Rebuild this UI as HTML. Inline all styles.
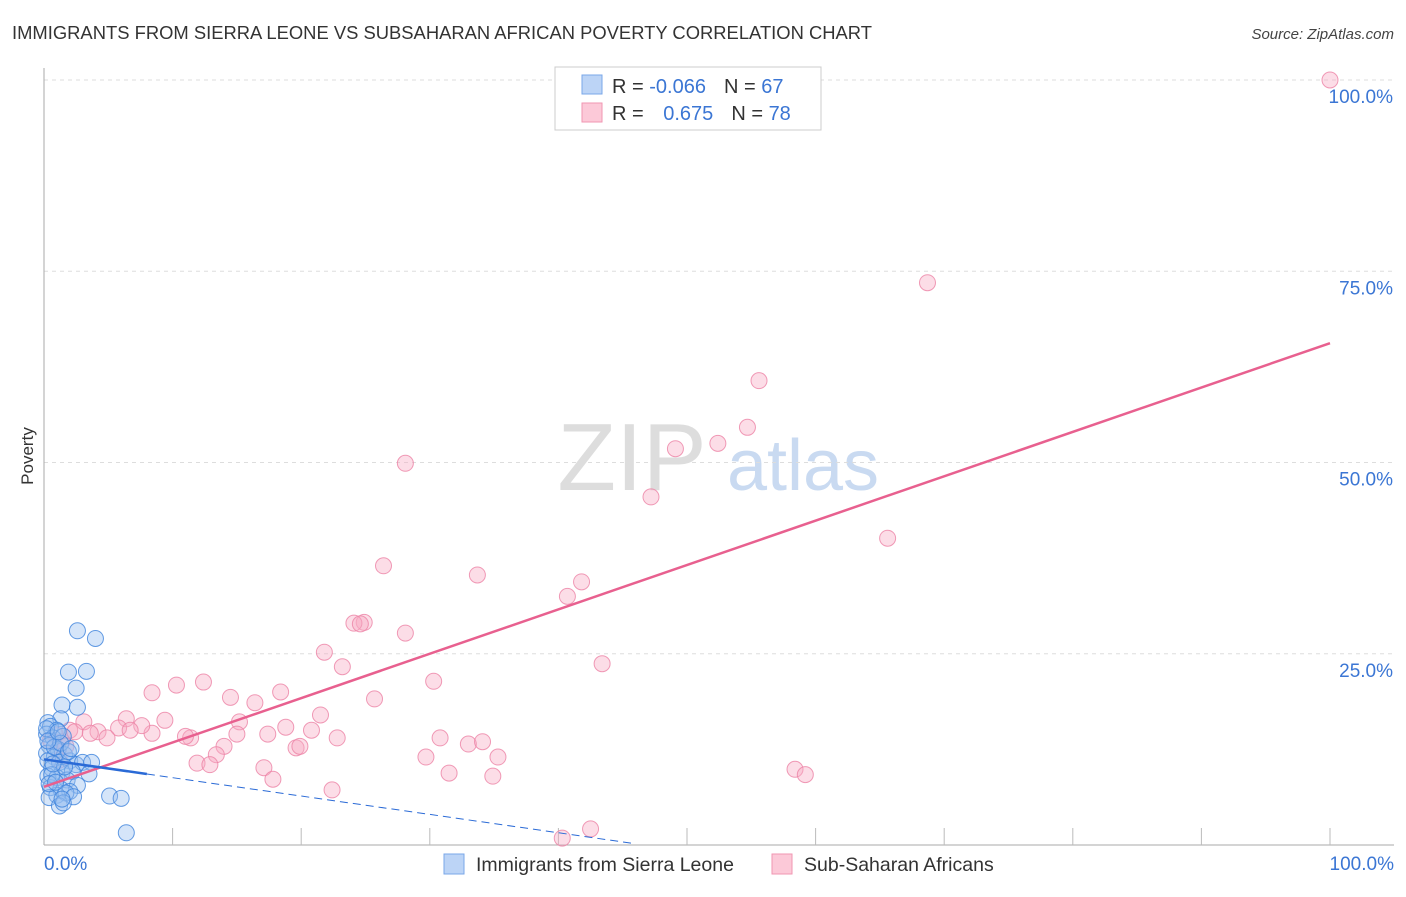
<!DOCTYPE html>
<html><head><meta charset="utf-8"><style>
body{margin:0;background:#fff;font-family:"Liberation Sans",sans-serif;}
svg text{font-family:"Liberation Sans",sans-serif;}
</style></head><body>
<svg id="chart" width="1406" height="892" viewBox="0 0 1406 892" xmlns="http://www.w3.org/2000/svg">
<text x="12" y="39" font-size="18" fill="#333" textLength="860" lengthAdjust="spacingAndGlyphs">IMMIGRANTS FROM SIERRA LEONE VS SUBSAHARAN AFRICAN POVERTY CORRELATION CHART</text>
<text x="1394" y="39" font-size="15" fill="#444" text-anchor="end" font-style="italic">Source: ZipAtlas.com</text>
<text transform="translate(33,456) rotate(-90)" font-size="17" fill="#333" text-anchor="middle">Poverty</text>
<g>
<text x="632" y="490" font-size="96" fill="#ddd" font-family="Liberation Serif,serif" text-anchor="middle">ZIP</text>
<text x="803" y="490" font-size="72" fill="#c9daf1" text-anchor="middle">atlas</text>
</g>
<g id="grid"></g>
<g id="axes"></g>
<g id="pts"></g>
<g id="lines"></g>
<g>
<rect x="555" y="67" width="266" height="63" fill="#fff" stroke="#ccc"/>
<rect x="582" y="75" width="20" height="19" fill="#bcd4f6" stroke="#7aa7e8"/>
<rect x="582" y="103" width="20" height="19" fill="#fcc9d8" stroke="#f096b2"/>
<text x="612" y="93" font-size="20" fill="#333">R = <tspan fill="#3b76d4">-0.066</tspan><tspan dx="18">N = </tspan><tspan fill="#3b76d4">67</tspan></text>
<text x="612" y="120" font-size="20" fill="#333">R = <tspan fill="#3b76d4" dx="14">0.675</tspan><tspan dx="18">N = </tspan><tspan fill="#3b76d4">78</tspan></text>
</g>
<g>
<rect x="444" y="854" width="20" height="20" fill="#bcd4f6" stroke="#7aa7e8"/>
<text x="476" y="871" font-size="19.5" fill="#333">Immigrants from Sierra Leone</text>
<rect x="772" y="854" width="20" height="20" fill="#fcc9d8" stroke="#f096b2"/>
<text x="804" y="871" font-size="19.5" fill="#333">Sub-Saharan Africans</text>
</g>
</svg>
<script>
const yTicks=[25,50,75,100];
const yTickLabels=["25.0%","50.0%","75.0%","100.0%"];
const xTickLabels=["0.0%","100.0%"];
const blueX=[2.6,4.0,1.9,3.3,2.5,1.4,2.6,1.3,0.3,0.5,1.0,0.2,0.7,1.5,0.4,1.1,0.2,0.8,1.6,0.3,1.2,2.0,2.5,3.0,3.7,0.6,1.4,2.2,3.5,0.3,1.0,1.8,2.6,0.5,1.3,2.0,1.0,1.7,0.4,2.3,1.2,1.5,5.1,6.0,6.4,0.8,1.3,0.2,0.6,1.9,0.4,0.9,1.6,0.3,1.1,0.7,2.1,1.4];
const blueY=[28,27,22.6,22.7,20.5,18.3,18,16.5,16,15.5,15,14.5,14,14.2,13,12.5,12,11.5,11.8,11,10.8,11,10.5,10.8,10.8,10,9.5,9.6,9.3,9,8.8,8.5,7.8,7.5,7.3,7.0,6.5,6.8,6.2,6.3,5.1,5.5,6.4,6.1,1.6,12.8,13.3,15.2,9.2,12.2,8.0,8.2,10.2,13.6,14.8,10.6,12.6,6.0];
const pinkX=[100,68.7,55.6,54.7,52.4,49.1,28.1,47.2,65.6,26.4,33.7,41.8,40.7,24.9,24.1,24.6,28.1,21.8,43.4,23.2,30.3,12.4,10.3,8.4,18.4,14.5,25.7,16.4,21.5,6.4,9.4,3.1,15.2,18.8,20.8,17.4,15.0,8.4,7.6,5.8,4.2,4.9,11.4,11.0,22.8,30.8,33.0,34.1,35.3,19.6,19.9,14.0,13.4,11.9,12.9,29.7,17.1,17.8,31.5,34.9,58.4,59.2,22.4,40.3,42.5,0.9,1.4,2.0,1.1,1.7,0.5,2.4,3.6,6.7,1.2];
const pinkY=[100,73.5,60.7,54.6,52.5,51.8,49.9,45.5,40.1,36.5,35.3,34.4,32.5,29.1,29.0,28.9,27.7,25.2,23.7,23.3,21.4,21.3,20.9,19.9,20.0,19.3,19.1,18.6,17,16.5,16.3,16.1,16.1,15.4,15.0,14.5,14.5,14.6,15.6,15.3,14.8,14.0,14.0,14.2,14.0,14.0,13.2,13.5,11.5,12.7,12.9,12.9,11.8,10.7,10.5,11.5,10.1,8.6,9.4,9.0,9.9,9.2,7.2,0.9,2.1,14.4,13.5,15.0,12.4,12.9,13.7,14.8,14.6,15.0,11.1];
const blueFit=[11.2,-0.24]; const pinkFit=[7.6,0.58];
const X=v=>44+v*12.86, Y=v=>845-v*7.65;
const NS="http://www.w3.org/2000/svg";
function mk(tag,attrs,parent){const e=document.createElementNS(NS,tag);for(const k in attrs)e.setAttribute(k,attrs[k]);document.getElementById(parent).appendChild(e);return e;}
yTicks.forEach((t,i)=>{
 const l=mk('line',{x1:44,x2:1394,y1:Y(t),y2:Y(t),stroke:'#ddd','stroke-dasharray':'4,4'},'grid');
 
 
 const tx=mk('text',{x:1393,y:Y(t)+23,'font-size':19,fill:'#3b76d4','text-anchor':'end'},'axes');tx.textContent=yTickLabels[i];
 
 
});
let a=mk('line',{x1:44,x2:44,y1:68,y2:845,stroke:'#aaa'},'axes');


a=mk('line',{x1:44,x2:1394,y1:845,y2:845,stroke:'#aaa'},'axes');


for(let i=1;i<=10;i++){const t=mk('line',{x1:X(i*10),x2:X(i*10),y1:828,y2:845,stroke:'#bbb'},'axes');
 
 }
[[0,'start',44],[100,'end',1394]].forEach((d,i)=>{const t=mk('text',{x:d[2],y:870,'font-size':19,fill:'#3b76d4','text-anchor':d[1]},'axes');t.textContent=xTickLabels[i];
 
 });
pinkX.forEach((x,i)=>{const c=mk('circle',{cx:X(x),cy:Y(pinkY[i]),r:8,fill:'rgba(248,170,195,0.4)',stroke:'rgba(236,130,165,0.8)','stroke-width':1},'pts');
 
 });
blueX.forEach((x,i)=>{const c=mk('circle',{cx:X(x),cy:Y(blueY[i]),r:8,fill:'rgba(150,190,240,0.4)',stroke:'rgba(60,130,220,0.8)','stroke-width':1},'pts');
 
 });
let l=mk('line',{x1:X(0),y1:Y(pinkFit[0]),x2:X(100),y2:Y(pinkFit[0]+pinkFit[1]*100),stroke:'#e8608f','stroke-width':2.5},'lines');


l=mk('line',{x1:X(0),y1:Y(blueFit[0]),x2:X(8),y2:Y(blueFit[0]+blueFit[1]*8),stroke:'#2a6ad6','stroke-width':2.5},'lines');


l=mk('line',{x1:X(8),y1:Y(blueFit[0]+blueFit[1]*8),x2:X(46),y2:Y(blueFit[0]+blueFit[1]*46),stroke:'#2a6ad6','stroke-width':1,'stroke-dasharray':'8,5'},'lines');


</script>
</body></html>
